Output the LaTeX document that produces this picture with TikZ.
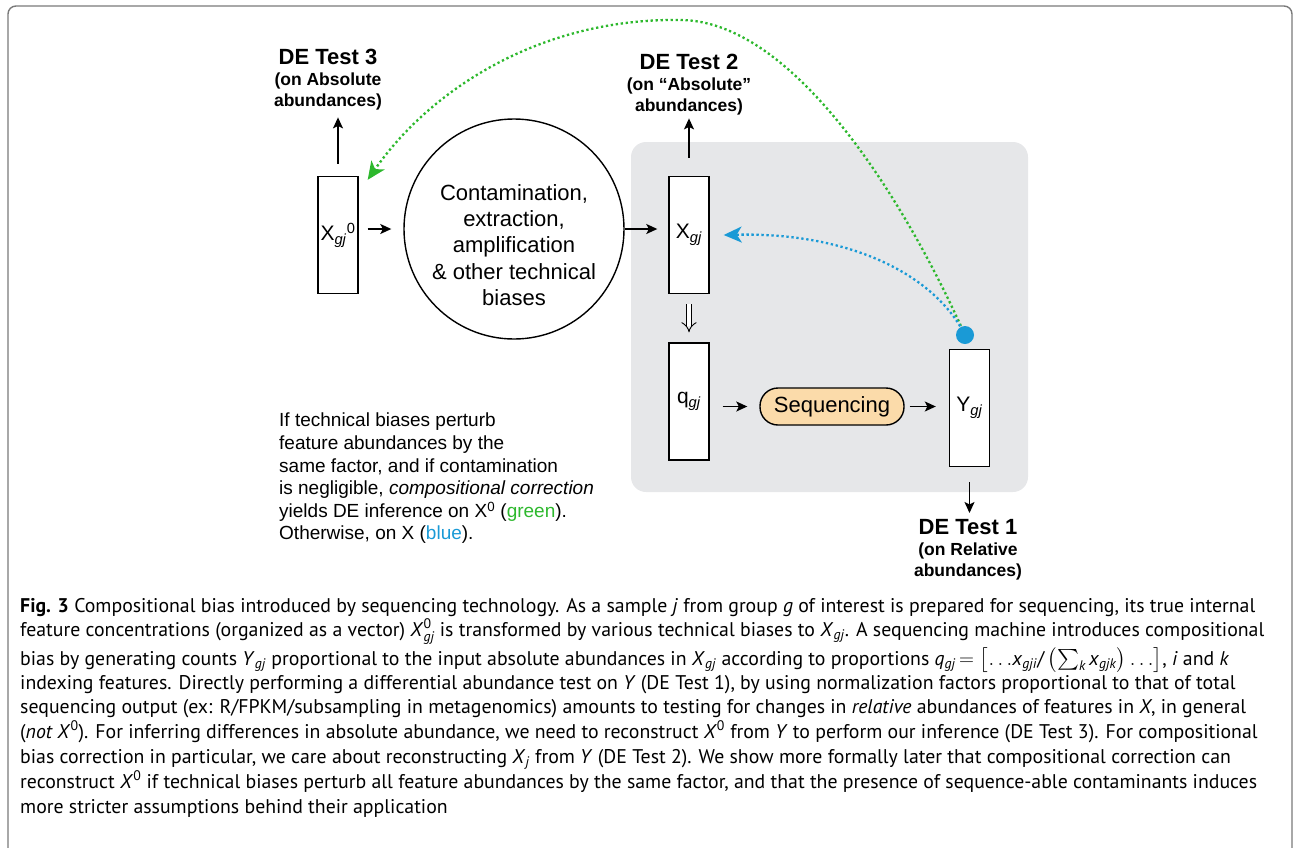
\documentclass[tikz,border=0pt]{standalone}
\usepackage{fontspec}
\usepackage{amsmath}
\setmainfont{PT Sans}
\newfontfamily\hel{Liberation Sans}
\usetikzlibrary{arrows.meta}
\definecolor{gbox}{HTML}{E6E7E9}
\definecolor{peach}{HTML}{FBDBAA}
\definecolor{dgreen}{HTML}{2DB82D}
\definecolor{dblue}{HTML}{1A9AD6}
\definecolor{framec}{HTML}{7A7A7A}
\newcommand\vv[2]{\textit{#1}\textsubscript{\textit{#2}}}
\tikzset{
  vbox/.style={draw, line width=1.4pt, fill=white, minimum width=40pt, minimum height=117pt, inner sep=0pt,
    font=\hel\fontsize{21}{24}\selectfont},
  arr/.style={line width=1.4pt, -{Stealth[length=11pt,width=10pt,inset=2.5pt]}},
  dotarr/.style={line width=2.3pt, dash pattern=on 2.3pt off 2.7pt, -{Stealth[length=18pt,width=16pt,inset=5pt]}},
  detitle/.style={inner sep=0pt, align=center, font=\hel\bfseries\fontsize{17.5}{21}\selectfont},
  capline/.style={anchor=base west, inner sep=0pt, font=\fontsize{19.8}{25}\selectfont},
}
\begin{document}
\begin{tikzpicture}[x=1pt,y=-1pt]
\useasboundingbox (0,0) rectangle (1294,847);
\clip (0,0) rectangle (1294,847);
\draw[framec, line width=1.4pt, rounded corners=8pt] (8,6) rectangle (1292,880);

% gray panel
\fill[gbox, rounded corners=15pt] (631,142) rectangle (1028,492);

% boxes
\node[vbox] (x0) at (338,235) {X\textsubscript{\textit{gj}}\textsuperscript{0}};
\node[vbox] (xgj) at (689,235) {X\textsubscript{\textit{gj}}};
\node[vbox] (q) at (689,401.5) {q\textsubscript{\textit{gj}}};
\node[vbox] (y) at (969.5,408) {Y\textsubscript{\textit{gj}}};
\node[draw, circle, line width=1.4pt, minimum size=220pt, inner sep=0pt] (circ) at (514,229) {};
\node[align=center, inner sep=0pt, font=\hel\fontsize{22}{26.3}\selectfont] (circtxt) at (514,245)
  {Contamination,\\extraction,\\amplification\\\& other technical\\biases};
\node[draw, line width=1.4pt, fill=peach, rounded corners=18pt, minimum width=144pt, minimum height=37pt,
  inner sep=0pt, font=\hel\fontsize{22}{24}\selectfont] (seq) at (832,406.5) {Sequencing};

% DE test labels
\node[detitle, anchor=north] (de3) at (328,49) {{\fontsize{22}{22}\selectfont DE Test 3}\\(on Absolute\\abundances)};
\node[detitle, anchor=north] (de2) at (689,54) {{\fontsize{22}{22}\selectfont DE Test 2}\\(on “Absolute”\\abundances)};
\node[detitle, anchor=north] (de1) at (968,519) {{\fontsize{22}{22}\selectfont DE Test 1}\\(on Relative\\abundances)};

% arrows
\draw[arr, shorten <=9pt, shorten >=12pt] (x0.east |- circ.west) -- (circ.west);
\draw[arr, shorten >=11pt] (circ.east) -- (xgj.west |- circ.east);
\draw[arr, shorten <=12pt, shorten >=7pt] (x0.north) -- (x0.north |- de3.south);
\draw[arr, shorten <=18pt, shorten >=3pt] (xgj.north) -- (xgj.north |- de2.south);
\draw[line width=0.9pt, double distance=4.5pt, -{Implies[length=7pt]}, shorten <=10pt, shorten >=10pt] (xgj.south) -- (q.north);
\draw[arr, shorten <=13pt, shorten >=12pt] (q.east |- seq.west) -- (seq.west);
\draw[arr, shorten <=5pt, shorten >=13pt] (seq.east) -- (y.west |- seq.east);
\draw[arr, shorten <=15pt, shorten >=6pt] (y.south) -- (y.south |- de1.north);

% blue dot and dotted feedback arrows
\coordinate (dotc) at (965,335);
\draw[dotarr, dgreen] (dotc) .. controls (900,190) and (790,20) .. (680,20)
  .. controls (540,18) and (430,90) .. ([xshift=9pt,yshift=-4pt]x0.north east);
\draw[dotarr, dblue] (dotc) .. controls (935,275) and (850,232) .. ([xshift=14pt]xgj.east);
\node[circle, fill=dblue, minimum size=18pt, inner sep=0pt] (dot) at (dotc) {};

% side note
\node[anchor=north west, align=left, inner sep=0pt, font=\hel\fontsize{19}{22.6}\selectfont] (note) at (279,413)
  {If technical biases perturb\\feature abundances by the\\same factor, and if contamination\\is negligible, \textit{compositional correction}\\yields DE inference on X\textsuperscript{0} (\textcolor{dgreen}{green}).\\Otherwise, on X (\textcolor{dblue}{blue}).};

% caption
\node[capline] (c1) at (20,612) {\textbf{Fig. 3} Compositional bias introduced by sequencing technology. As a sample \textit{j} from group \textit{g} of interest is prepared for sequencing, its true internal};
\node[capline] (c2) at (20,636) {feature concentrations (organized as a vector) \textit{X}$^{\text{0}}_{\textit{gj}}$ is transformed by various technical biases to \vv{X}{gj}. A sequencing machine introduces compositional};
\node[capline] (c3) at (20,665) {bias by generating counts \vv{Y}{gj} proportional to the input absolute abundances in \vv{X}{gj} according to proportions \vv{q}{gj}\,$=\bigl[\ldots$\vv{x}{gji}/\,$\bigl(\sum_{\textit{k}}$\,\vv{x}{gjk}$\bigr)\ldots\bigr]$, \textit{i} and \textit{k}};
\node[capline] (c4) at (20,689) {indexing features. Directly performing a differential abundance test on \textit{Y} (DE Test 1), by using normalization factors proportional to that of total};
\node[capline] (c5) at (20,713) {sequencing output (ex: R/FPKM/subsampling in metagenomics) amounts to testing for changes in \textit{relative} abundances of features in \textit{X}, in general};
\node[capline] (c6) at (20,738) {(\textit{not X}\textsuperscript{0}). For inferring differences in absolute abundance, we need to reconstruct \textit{X}\textsuperscript{0} from \textit{Y} to perform our inference (DE Test 3). For compositional};
\node[capline] (c7) at (20,763) {bias correction in particular, we care about reconstructing \vv{X}{j} from \textit{Y} (DE Test 2). We show more formally later that compositional correction can};
\node[capline] (c8) at (20,788) {reconstruct \textit{X}\textsuperscript{0} if technical biases perturb all feature abundances by the same factor, and that the presence of sequence-able contaminants induces};
\node[capline] (c9) at (20,813) {more stricter assumptions behind their application};
\end{tikzpicture}
\end{document}
